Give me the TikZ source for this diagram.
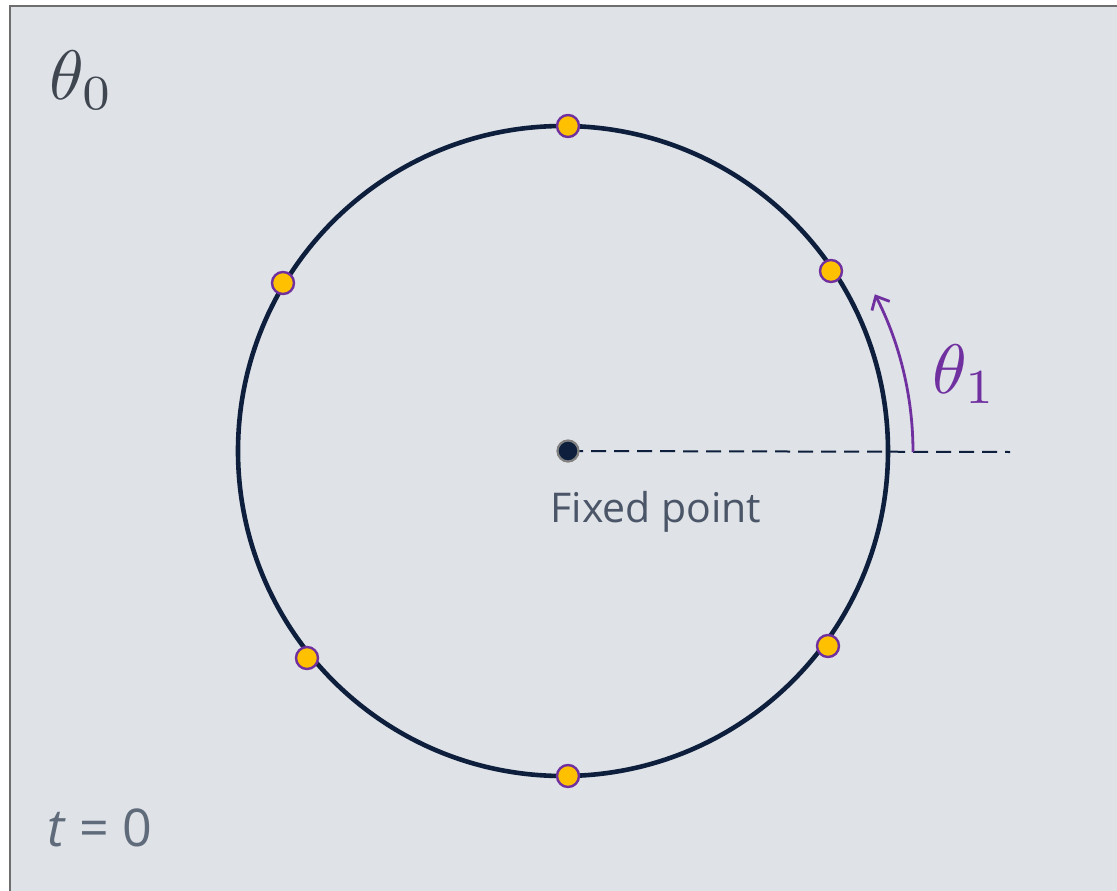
\documentclass[tikz,border=0pt]{standalone}
\usepackage{graphicx}
\usepackage{fontspec}
\setsansfont{Open Sans}
\usetikzlibrary{arrows.meta}
\definecolor{bgc}{HTML}{DFE2E7}
\definecolor{framec}{HTML}{6E6E6E}
\definecolor{navy}{HTML}{0D1F3C}
\definecolor{gold}{HTML}{FFC000}
\definecolor{purp}{HTML}{7030A0}
\definecolor{thetag}{HTML}{3F4650}
\definecolor{tgray}{HTML}{5F6B7A}
\definecolor{fpgray}{HTML}{4A5568}
\tikzset{
  bead/.style={circle, fill=gold, draw=purp, line width=2.4pt, minimum size=22pt, inner sep=0pt},
  hub/.style={circle, fill=navy, draw=gray, line width=2.2pt, minimum size=21pt, inner sep=0pt},
}
\begin{document}
\begin{tikzpicture}[x=1pt,y=-1pt]
\useasboundingbox (0,0) rectangle (1117,891);
\fill[white] (0,0) rectangle (1117,891);
\draw[framec, line width=2.5pt, fill=bgc] (10,6) rectangle (1130,900);
% circle
\coordinate (cc) at (563,451);
\coordinate (c) at (568,451);
\draw[navy, line width=4.6pt] (cc) circle[radius=325];
% dashed
\coordinate (dend) at (1010,452);
\draw[navy, line width=2pt, dash pattern=on 15pt off 8pt] (c) -- (dend);
% angle arc
\draw[purp, line width=2.8pt, -{Straight Barb[length=11pt,width=20pt]}] (913,452) arc[start angle=0, end angle=-27.2, radius=345];
% beads
\node[bead] (b1) at (568,126) {};
\node[bead] (b2) at (568,776) {};
\node[bead] (b3) at (283,283) {};
\node[bead] (b4) at (831,271) {};
\node[bead] (b5) at (307,658) {};
\node[bead] (b6) at (828,646) {};
\node[hub] (h) at (c) {};
% labels
\node[text=fpgray, font=\sffamily\fontsize{41}{48}\selectfont] (fp) at (656,512) {Fixed point};
\node[text=purp] (t1) at (965,374) {\scalebox{7}{$\theta_1$}};
\node[text=thetag] (t0) at (82,80) {\scalebox{7}{$\theta_0$}};
\node[text=tgray, font=\sffamily\fontsize{52}{60}\selectfont] (tz) at (100,828) {\textit{t} = 0};
\end{tikzpicture}
\end{document}
